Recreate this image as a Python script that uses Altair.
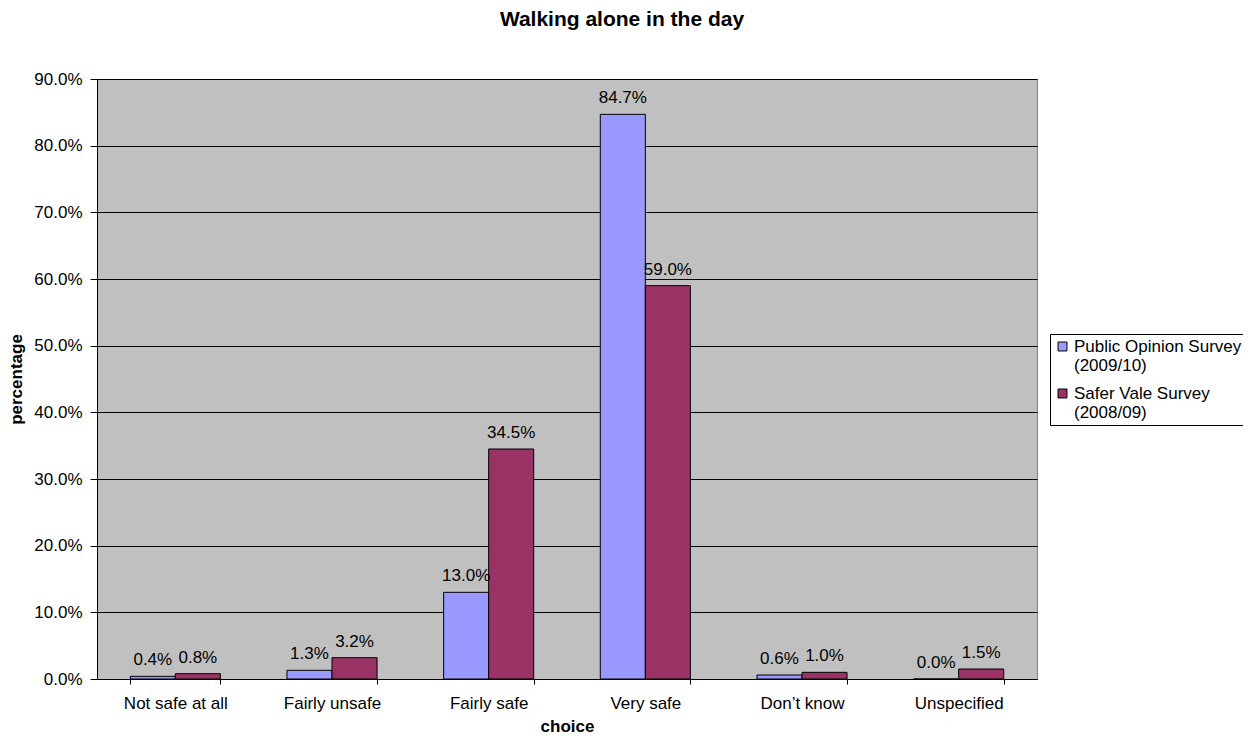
import altair as alt
import pandas as pd

categories = ["Not safe at all", "Fairly unsafe", "Fairly safe", "Very safe", "Don\u2019t know", "Unspecified"]
series = ["Public Opinion Survey|(2009/10)", "Safer Vale Survey|(2008/09)"]
public_opinion = [0.4, 1.3, 13.0, 84.7, 0.6, 0.0]
safer_vale = [0.8, 3.2, 34.5, 59.0, 1.0, 1.5]
colors = ["#9999FF", "#993366"]

rows = []
for c, a, b in zip(categories, public_opinion, safer_vale):
    rows.append({"choice": c, "series": series[0], "value": a / 100})
    rows.append({"choice": c, "series": series[1], "value": b / 100})
df = pd.DataFrame(rows)

FONT = "Liberation Sans"
FS = 17

x = alt.X("choice:N", sort=categories, title="choice",
          scale=alt.Scale(paddingInner=0.425, paddingOuter=0.2125),
          axis=alt.Axis(labelAngle=0, tickBand="extent", tickSize=5, labelPadding=11,
                        titlePadding=7, domainColor="black", tickColor="black"))
xo = alt.XOffset("series:N", sort=series)
y = alt.Y("value:Q", title="percentage",
          scale=alt.Scale(domain=[0, 0.9]),
          axis=alt.Axis(format=".1%", values=[i / 10 for i in range(10)], tickSize=7,
                        labelPadding=8, titlePadding=8, gridColor="black",
                        domainColor="black", tickColor="black"))

base = alt.Chart(df)
bars = base.mark_bar(stroke="black", strokeWidth=1).encode(
    x=x, xOffset=xo, y=y,
    color=alt.Color("series:N", sort=series,
                    scale=alt.Scale(domain=series, range=colors),
                    legend=alt.Legend(title=None, orient="none", legendX=953, legendY=255,
                                      labelExpr="split(datum.label, '|')",
                                      symbolType="square", symbolSize=80,
                                      symbolStrokeColor="black", symbolStrokeWidth=1,
                                      fillColor="white", strokeColor="black",
                                      padding=4, rowPadding=10, labelOffset=3,
                                      labelFontSize=FS, labelFont=FONT, labelColor="black",
                                      labelLimit=400)),
)
labels = base.mark_text(baseline="alphabetic", dy=-11, fontSize=FS, font=FONT, color="black").encode(
    x=x, xOffset=xo, y=y,
    text=alt.Text("value:Q", format=".1%"),
)

chart = (bars + labels).properties(
    width=940, height=600,
    title=alt.Title("Walking alone in the day", fontSize=21, fontWeight="bold", font=FONT,
                    color="black", anchor="middle", dx=55, offset=40),
    autosize=alt.AutoSizeParams(type="none"),
    padding={"left": 89, "top": 71, "right": 206, "bottom": 55},
).configure_view(
    fill="#C0C0C0", stroke="#808080", strokeWidth=1
).configure_axis(
    labelFont=FONT, titleFont=FONT, labelFontSize=FS, titleFontSize=FS,
    labelColor="black", titleColor="black", titleFontWeight="bold"
).configure_axisX(grid=False)

chart.save("out.html", embed_options={"renderer": "svg", "actions": False})
